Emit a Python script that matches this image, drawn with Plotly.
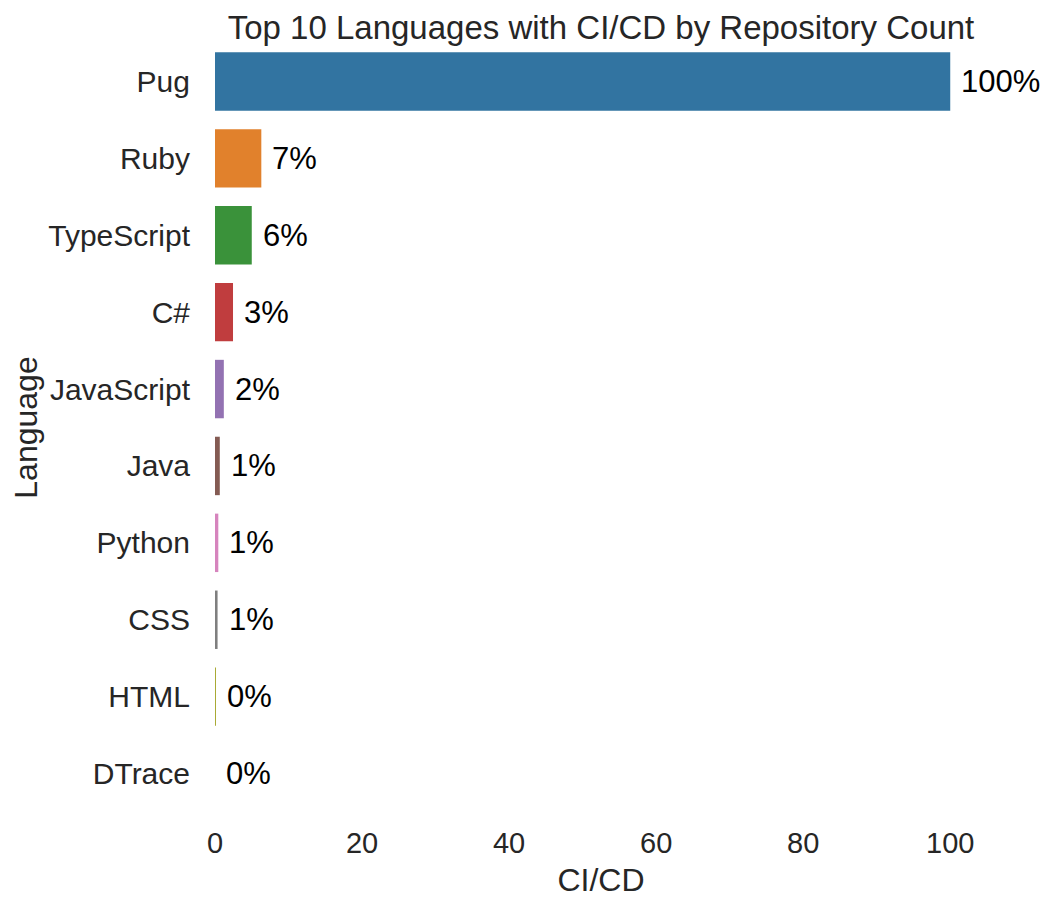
import plotly.graph_objects as go

languages = ["Pug", "Ruby", "TypeScript", "C#", "JavaScript", "Java", "Python", "CSS", "HTML", "DTrace"]
cicd_pct = [100.0, 6.3, 5.0, 2.45, 1.2, 0.65, 0.45, 0.35, 0.1, 0.0]
pct_labels = ["100%", "7%", "6%", "3%", "2%", "1%", "1%", "1%", "0%", "0%"]
colors = ["#3274a1", "#e1812c", "#3a923a", "#c03d3e", "#9372b2",
          "#845b53", "#d684bd", "#7f7f7f", "#a9aa35", "#2ebece"]
x_ticks = [0, 20, 40, 60, 80, 100]

FONT = "Liberation Sans, Arial, sans-serif"
TXT = "#262626"

fig = go.Figure()
fig.add_trace(go.Bar(
    y=languages, x=cicd_pct, orientation="h",
    marker=dict(color=colors, line=dict(width=0)),
    width=0.76, showlegend=False,
))

for lang, v, lab in zip(languages, cicd_pct, pct_labels):
    fig.add_annotation(x=v, y=lang, text=lab, showarrow=False,
                       xanchor="left", yanchor="middle", xshift=9,
                       font=dict(family=FONT, size=31, color="black"))

fig.update_layout(
    width=1055, height=908,
    margin=dict(l=207, r=76, t=35, b=104, autoexpand=False),
    paper_bgcolor="white", plot_bgcolor="white",
    font=dict(family=FONT, color=TXT),
    title=dict(text="Top 10 Languages with CI/CD by Repository Count",
               x=0.5, xref="paper", xanchor="center",
               y=1 - 19 / 908, yref="container", yanchor="middle",
               font=dict(size=33, color=TXT)),
)
fig.update_xaxes(range=[0, 105], tickvals=x_ticks, showgrid=False, zeroline=False,
                 showline=False, ticks="", ticklabelstandoff=11, automargin=False,
                 tickfont=dict(size=29, color=TXT),
                 title=dict(text="CI/CD", font=dict(size=32, color=TXT), standoff=10))
fig.update_yaxes(autorange="reversed", showgrid=False, zeroline=False, showline=False,
                 ticks="", ticklabelstandoff=24, automargin=False,
                 tickfont=dict(size=30, color=TXT),
                 title=dict(text="Language", font=dict(size=32, color=TXT), standoff=10))

fig.write_html("out.html")
